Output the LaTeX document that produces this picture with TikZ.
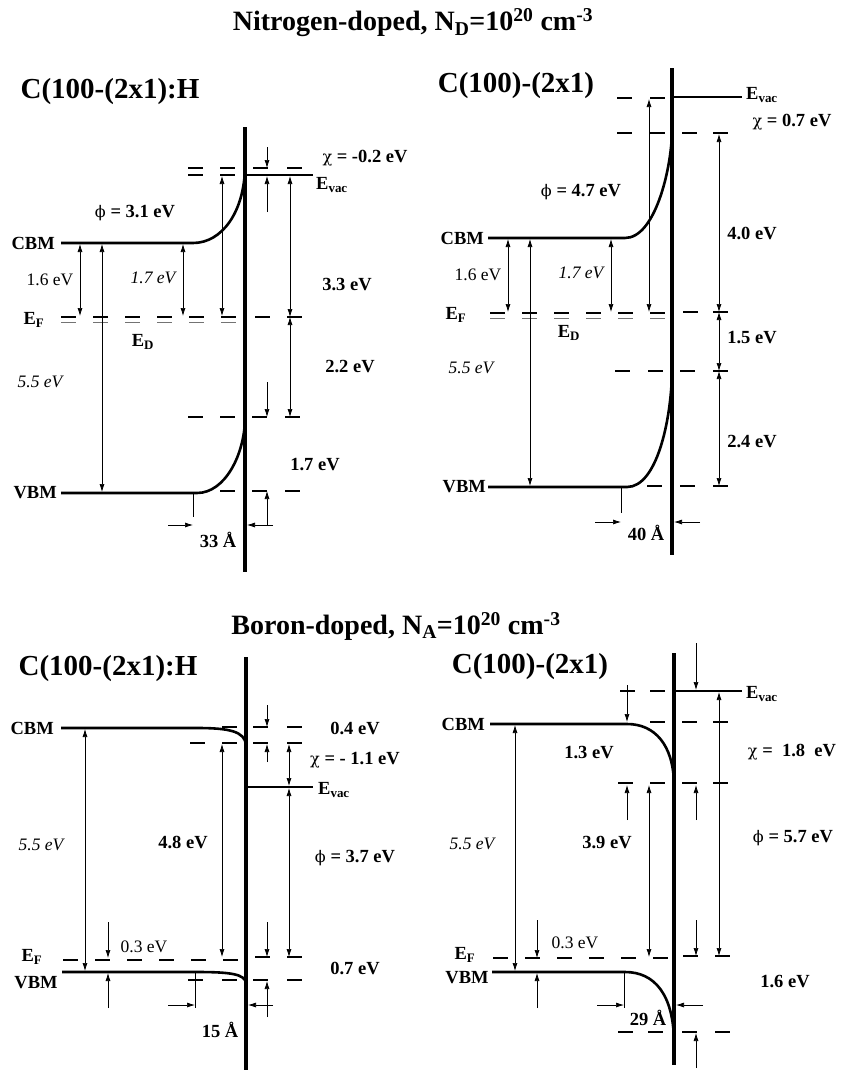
\documentclass[tikz,border=0pt]{standalone}
\usepackage{fontspec}
\setmainfont{Liberation Serif}
\newfontfamily\grk{DejaVu Serif}
\usetikzlibrary{arrows.meta}

% short level marks, thick Fermi dashes and thin donor dashes
\newcommand{\levdash}[2]{\foreach \xx in {#2} \draw[lvl] (\xx,#1) -- ++(15,0);}
\newcommand{\efermi}[2]{\foreach \kk in {0,...,5} \draw[fermi] ({#2+32*\kk},#1) -- ++(15,0);}
\newcommand{\edonor}[2]{\foreach \kk in {0,...,5} \draw[donor] ({#2+32*\kk},#1) -- ++(15,0);}
\newcommand{\wf}{{\grk\mdseries\fontsize{16}{18}\selectfont ϕ}}
\newcommand{\ea}{{\grk\mdseries\fontsize{16}{18}\selectfont χ}}

\begin{document}
\begin{tikzpicture}[
  x=1pt, y=-1pt,
  >={Latex[length=8pt,width=5pt]},
  band/.style={line width=2.6pt},
  surf/.style={line width=3.2pt},
  lvl/.style={line width=1.2pt},
  fermi/.style={line width=2.8pt},
  donor/.style={line width=0.6pt, black!55},
  dim/.style={line width=0.7pt},
  head/.style={font=\bfseries\fontsize{28}{32}\selectfont, inner sep=0pt},
  big/.style={font=\bfseries\fontsize{29}{33}\selectfont, inner sep=0pt},
  lbl/.style={font=\bfseries\fontsize{18.5}{21}\selectfont, inner sep=0pt},
  val/.style={font=\fontsize{17.5}{20}\selectfont, inner sep=0pt},
  ival/.style={font=\itshape\fontsize{17.5}{20}\selectfont, inner sep=0pt}
]
  \useasboundingbox (0,0) rectangle (842,1071);

  \node[head] (nhead) at (413,23) {Nitrogen-doped, N\textsubscript{D}=10\textsuperscript{20} cm\textsuperscript{-3}};
  \node[head] (bhead) at (396,626) {Boron-doped, N\textsubscript{A}=10\textsuperscript{20} cm\textsuperscript{-3}};

  % N-doped, C(100)-(2x1):H
  \node[big] (ntitleH) at (110,92) {C(100-(2x1):H};
  \draw[surf] (245,127) -- (245,572);
  \draw[band] (61,243) -- (193,243) .. controls (222,243) and (244,212) .. (245,168);
  \draw[band] (61,493) -- (197,493) .. controls (225,493) and (244,455) .. (245,420);
  \draw[band] (245,175) -- (313,175);
  \efermi{317}{61} \edonor{322}{61}
  \levdash{168}{188,220,253,287}
  \levdash{175}{188,220}
  \levdash{317}{255,287}
  \levdash{417}{188,220,252,285}
  \levdash{491}{220,252,285}
  \draw[dim,->] (267,147) -- (267,168);
  \draw[dim,->] (267,212) -- (267,176);
  \draw[dim,<->] (222,176) -- (222,316);
  \draw[dim,<->] (290,176) -- (290,317);
  \draw[dim,<->] (290,317) -- (290,417);
  \draw[dim,->] (267,382) -- (267,417);
  \draw[dim,->] (267,525) -- (267,491);
  \draw[dim,<->] (80,244) -- (80,316);
  \draw[dim,<->] (102,244) -- (102,492);
  \draw[dim,<->] (183,244) -- (183,316);
  \draw[dim] (193,494) -- (193,517);
  \draw[dim,->] (168,525) -- (193,525);
  \draw[dim,->] (273,525) -- (247,525);
  \node[lbl,anchor=east] (ncbmH) at (55,243) {CBM};
  \node[lbl,anchor=east] (nvbmH) at (57,493) {VBM};
  \node[lbl] (nefH) at (34,320) {E\textsubscript{F}};
  \node[lbl] (nedH) at (143,342) {E\textsubscript{D}};
  \node[lbl,anchor=west] (nevacH) at (316,185) {E\textsubscript{vac}};
  \node[lbl] (nphiH) at (135,213) {\wf\ = 3.1 eV};
  \node[lbl] (nchiH) at (365,158) {\ea\ = -0.2 eV};
  \node[lbl] (n33H) at (347,285) {3.3 eV};
  \node[lbl] (n22H) at (350,367) {2.2 eV};
  \node[lbl] (n17H) at (315,465) {1.7 eV};
  \node[lbl] (nlenH) at (218,540) {33 Å};
  \node[val] (n16H) at (50,280) {1.6 eV};
  \node[ival] (n17iH) at (153,278) {1.7 eV};
  \node[ival] (n55H) at (40,382) {5.5 eV};

  % N-doped, clean C(100)-(2x1)
  \node[big] (ntitleC) at (516,86) {C(100)-(2x1)};
  \draw[surf] (672,68) -- (672,555);
  \draw[band] (488,238) -- (625,238) .. controls (655,238) and (671,170) .. (672,133);
  \draw[band] (488,487) -- (627,487) .. controls (657,487) and (671,420) .. (672,373);
  \draw[band] (672,97) -- (742,97);
  \efermi{313}{490} \edonor{318}{490}
  \levdash{98}{617,650}
  \levdash{133}{617,650,682,713}
  \levdash{312}{683,713}
  \levdash{371}{615,648,680,713}
  \levdash{486}{647,680,713}
  \draw[dim,<->] (649,99) -- (649,312);
  \draw[dim,<->] (719,134) -- (719,312);
  \draw[dim,<->] (719,312) -- (719,371);
  \draw[dim,<->] (719,371) -- (719,486);
  \draw[dim,<->] (508,239) -- (508,312);
  \draw[dim,<->] (530,239) -- (530,486);
  \draw[dim,<->] (611,239) -- (611,312);
  \draw[dim] (621,488) -- (621,513);
  \draw[dim,->] (595,522) -- (621,522);
  \draw[dim,->] (700,522) -- (674,522);
  \node[lbl,anchor=east] (ncbmC) at (484,238) {CBM};
  \node[lbl,anchor=east] (nvbmC) at (486,487) {VBM};
  \node[lbl] (nefC) at (456,315) {E\textsubscript{F}};
  \node[lbl] (nedC) at (569,333) {E\textsubscript{D}};
  \node[lbl,anchor=west] (nevacC) at (746,95) {E\textsubscript{vac}};
  \node[lbl] (nphiC) at (581,192) {\wf\ = 4.7 eV};
  \node[lbl] (nchiC) at (792,122) {\ea\ = 0.7 eV};
  \node[lbl] (n40C) at (752,233) {4.0 eV};
  \node[lbl] (n15C) at (752,338) {1.5 eV};
  \node[lbl] (n24C) at (752,442) {2.4 eV};
  \node[lbl] (nlenC) at (646,533) {40 Å};
  \node[val] (n16C) at (478,275) {1.6 eV};
  \node[ival] (n17iC) at (581,273) {1.7 eV};
  \node[ival] (n55C) at (471,368) {5.5 eV};

  % B-doped, C(100)-(2x1):H
  \node[big] (btitleH) at (108,669) {C(100-(2x1):H};
  \draw[surf] (246,657) -- (246,1070);
  \draw[band] (61,728) -- (197,728) .. controls (228,728) and (245,731) .. (246,745);
  \draw[band] (62,972) -- (197,972) .. controls (230,972) and (245,974) .. (246,983);
  \draw[band] (246,787) -- (313,787);
  \efermi{960}{63}
  \levdash{727}{222,253,287}
  \levdash{743}{190,222,253,287}
  \levdash{957}{255,287}
  \levdash{980}{188,222,253,287}
  \draw[dim] (195,973) -- (195,1008);
  \draw[dim,->] (267,705) -- (267,727);
  \draw[dim,->] (267,762) -- (267,744);
  \draw[dim,<->] (289,744) -- (289,786);
  \draw[dim,<->] (289,788) -- (289,957);
  \draw[dim,<->] (222,744) -- (222,957);
  \draw[dim,->] (267,922) -- (267,957);
  \draw[dim,->] (267,1017) -- (267,981);
  \draw[dim,->] (108,922) -- (108,958);
  \draw[dim,->] (108,1008) -- (108,973);
  \draw[dim,<->] (85,729) -- (85,971);
  \draw[dim,->] (168,1005) -- (195,1005);
  \draw[dim,->] (273,1005) -- (248,1005);
  \node[lbl,anchor=east] (bcbmH) at (54,728) {CBM};
  \node[lbl] (befH) at (32,957) {E\textsubscript{F}};
  \node[lbl] (bvbmH) at (36,983) {VBM};
  \node[lbl,anchor=west] (bevacH) at (318,790) {E\textsubscript{vac}};
  \node[lbl] (b04H) at (355,728) {0.4 eV};
  \node[lbl] (bchiH) at (355,760) {\ea\ = - 1.1 eV};
  \node[lbl] (b48H) at (183,842) {4.8 eV};
  \node[lbl] (bphiH) at (355,858) {\wf\ = 3.7 eV};
  \node[lbl] (b07H) at (355,968) {0.7 eV};
  \node[lbl] (blenH) at (220,1030) {15 Å};
  \node[val] (b03H) at (144,947) {0.3 eV};
  \node[ival] (b55H) at (41,845) {5.5 eV};

  % B-doped, clean C(100)-(2x1)
  \node[big] (btitleC) at (530,667) {C(100)-(2x1)};
  \draw[surf] (674,653) -- (674,1065);
  \draw[band] (490,724) -- (627,724) .. controls (655,724) and (673,745) .. (674,783);
  \draw[band] (492,972) -- (625,972) .. controls (655,972) and (673,995) .. (674,1040);
  \draw[band] (674,691) -- (742,691);
  \efermi{958}{493}
  \levdash{691}{620,650}
  \levdash{722}{650,682,713}
  \levdash{783}{618,650,682,713}
  \levdash{956}{683,715}
  \levdash{1032}{618,648,682,715}
  \draw[dim,->] (627,685) -- (627,722);
  \draw[dim,->] (627,820) -- (627,785);
  \draw[dim,<->] (649,785) -- (649,957);
  \draw[dim,->] (696,643) -- (696,690);
  \draw[dim,->] (696,820) -- (696,785);
  \draw[dim,->] (696,920) -- (696,956);
  \draw[dim,->] (696,1068) -- (696,1033);
  \draw[dim,<->] (719,692) -- (719,956);
  \draw[dim,->] (537,920) -- (537,958);
  \draw[dim,->] (537,1008) -- (537,973);
  \draw[dim,<->] (515,725) -- (515,971);
  \draw[dim] (624,973) -- (624,1008);
  \draw[dim,->] (597,1005) -- (624,1005);
  \draw[dim,->] (703,1005) -- (676,1005);
  \node[lbl,anchor=east] (bcbmC) at (485,724) {CBM};
  \node[lbl] (befC) at (465,955) {E\textsubscript{F}};
  \node[lbl] (bvbmC) at (467,978) {VBM};
  \node[lbl,anchor=west] (bevacC) at (746,694) {E\textsubscript{vac}};
  \node[lbl] (b13C) at (589,753) {1.3 eV};
  \node[lbl] (bchiC) at (792,752) {\ea\ =\ \ 1.8\ \ eV};
  \node[lbl] (b39C) at (607,843) {3.9 eV};
  \node[lbl] (bphiC) at (793,838) {\wf\ = 5.7 eV};
  \node[lbl] (b16C) at (785,982) {1.6 eV};
  \node[lbl] (blenC) at (648,1018) {29 Å};
  \node[val] (b03C) at (575,943) {0.3 eV};
  \node[ival] (b55C) at (472,844) {5.5 eV};
\end{tikzpicture}
\end{document}
